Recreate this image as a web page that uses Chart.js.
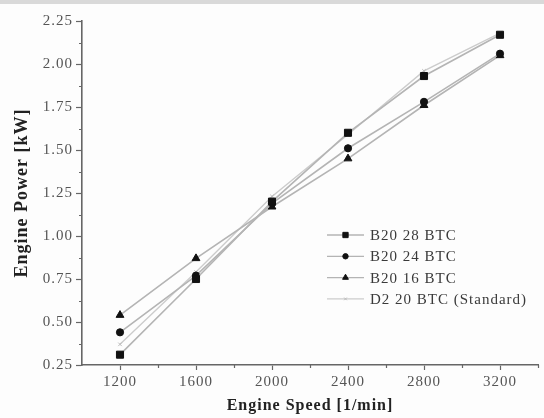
<!DOCTYPE html>
<html>
<head>
<meta charset="utf-8">
<script src="https://cdn.jsdelivr.net/npm/chart.js@4.4.0/dist/chart.umd.min.js"></script>
<style>
  html, body { margin: 0; padding: 0; background: #ffffff; }
  #wrap { position: relative; width: 544px; height: 418px; overflow: hidden; background: #fdfdfd; }
  #band { position: absolute; left: 0; top: 0; width: 544px; height: 4px; background: #d9d9d9; }
  canvas { position: absolute; left: 0; top: 0; }
</style>
</head>
<body>
<div id="wrap">
  <div id="band"></div>
  <canvas id="c" width="544" height="418"></canvas>
</div>
<script>
// ---- data ----
const speeds = [1200, 1600, 2000, 2400, 2800, 3200];
const majorXTicks = [1200, 1600, 2000, 2400, 2800, 3200];
const minorXTicks = [1400, 1800, 2200, 2600, 3000, 3400];
const majorYTicks = [0.25, 0.50, 0.75, 1.00, 1.25, 1.50, 1.75, 2.00, 2.25];
const minorYTicks = [0.375, 0.625, 0.875, 1.125, 1.375, 1.625, 1.875, 2.125];
const b20_28 = [0.31, 0.75, 1.20, 1.60, 1.93, 2.17];
const b20_24 = [0.44, 0.77, 1.19, 1.51, 1.78, 2.06];
const b20_16 = [0.54, 0.87, 1.17, 1.45, 1.76, 2.05];
const d2_20  = [0.37, 0.79, 1.23, 1.59, 1.96, 2.18];
const seriesLabels = ['B20 28 BTC', 'B20 24 BTC', 'B20 16 BTC', 'D2 20 BTC (Standard)'];

const serif = "'Liberation Serif', 'DejaVu Serif', serif";

function pts(vals) { return speeds.map((x, i) => ({ x: x, y: vals[i] })); }

const lineGray = '#b4b4b4';
const datasets = [
  { label: seriesLabels[0], data: pts(b20_28), pointStyle: 'rect', pointRadius: 5, borderColor: lineGray, pointBackgroundColor: '#111', pointBorderColor: '#111', borderWidth: 1.6 },
  { label: seriesLabels[1], data: pts(b20_24), pointStyle: 'circle', pointRadius: 3.6, borderColor: lineGray, pointBackgroundColor: '#111', pointBorderColor: '#111', borderWidth: 1.6 },
  { label: seriesLabels[2], data: pts(b20_16), pointStyle: 'triangle', pointRadius: 4.5, borderColor: lineGray, pointBackgroundColor: '#111', pointBorderColor: '#111', borderWidth: 1.6 },
  { label: seriesLabels[3], data: pts(d2_20), pointStyle: 'crossRot', pointRadius: 2.5, borderColor: '#cccccc', pointBackgroundColor: '#bbbbbb', pointBorderColor: '#bbbbbb', borderWidth: 1.4, pointBorderWidth: 1 }
];
datasets.forEach(d => { d.tension = 0; d.fill = false; d.pointBorderWidth = d.pointBorderWidth || 1; });

const spacingPlugin = {
  id: 'letterSpacing',
  beforeLayout(chart) { chart.ctx.letterSpacing = '1px'; },
  beforeDraw(chart) { chart.ctx.letterSpacing = '1px'; }
};

const minorTicksPlugin = {
  id: 'minorTicks',
  afterDraw(chart) {
    const ctx = chart.ctx;
    const xs = chart.scales.x, ys = chart.scales.y;
    ctx.save();
    ctx.strokeStyle = '#666';
    ctx.lineWidth = 1.2;
    ctx.beginPath();
    minorXTicks.forEach(v => {
      const px = Math.round(xs.getPixelForValue(v)) + 0.5;
      ctx.moveTo(px, ys.bottom); ctx.lineTo(px, ys.bottom + 3);
    });
    minorYTicks.forEach(v => {
      const py = Math.round(ys.getPixelForValue(v)) + 0.5;
      ctx.moveTo(xs.left, py); ctx.lineTo(xs.left - 3, py);
    });
    ctx.stroke();
    ctx.restore();
  }
};

const legendPlugin = {
  id: 'innerLegend',
  afterDraw(chart) {
    const ctx = chart.ctx;
    const x0 = 327, x1 = 364, tx = 370;
    const y0 = 235, dy = 21.3;
    ctx.save();
    chart.data.datasets.forEach((d, i) => {
      const y = y0 + i * dy;
      ctx.strokeStyle = d.borderColor;
      ctx.lineWidth = 1.3;
      ctx.beginPath(); ctx.moveTo(x0, y); ctx.lineTo(x1, y); ctx.stroke();
      ctx.fillStyle = d.pointBackgroundColor;
      ctx.strokeStyle = d.pointBorderColor;
      ctx.lineWidth = 1;
      Chart.helpers.drawPoint(ctx, { pointStyle: d.pointStyle, radius: d.pointRadius * 0.75, rotation: 0, borderWidth: 1 }, (x0 + x1) / 2, y);
      ctx.fillStyle = '#3a3a3a';
      ctx.font = '15px ' + serif;
      ctx.letterSpacing = '1px';
      ctx.textBaseline = 'middle';
      ctx.textAlign = 'left';
      ctx.fillText(d.label, tx, y + 1);
    });
    ctx.restore();
  }
};

new Chart(document.getElementById('c'), {
  type: 'line',
  data: { datasets: datasets },
  plugins: [spacingPlugin, minorTicksPlugin, legendPlugin],
  options: {
    responsive: false,
    animation: false,
    layout: { padding: { left: 0, right: 2, top: 21, bottom: 0 } },
    plugins: { legend: { display: false }, tooltip: { enabled: false } },
    scales: {
      x: {
        type: 'linear', min: 1000, max: 3400,
        afterBuildTicks(scale) { scale.ticks = majorXTicks.map(v => ({ value: v })); },
        afterFit(scale) { scale.height = 53; },
        grid: { drawOnChartArea: false, drawTicks: true, tickLength: 5, tickColor: '#666', tickWidth: 1.2 },
        border: { display: true, color: '#666', width: 1.6 },
        ticks: { color: '#555', font: { family: serif, size: 15 }, padding: 3, maxRotation: 0, autoSkip: false,
                 callback: v => String(v) },
        title: { display: true, text: 'Engine Speed [1/min]', color: '#222', font: { family: serif, size: 16, weight: 'bold' }, padding: { top: 2, bottom: 3 } }
      },
      y: {
        type: 'linear', min: 0.25, max: 2.25,
        afterBuildTicks(scale) { scale.ticks = majorYTicks.map(v => ({ value: v })); },
        afterFit(scale) { scale.width = 82; },
        grid: { drawOnChartArea: false, drawTicks: true, tickLength: 6, tickColor: '#666', tickWidth: 1.2 },
        border: { display: true, color: '#666', width: 1.6 },
        ticks: { color: '#555', font: { family: serif, size: 15 }, padding: 3, autoSkip: false,
                 callback: v => Number(v).toFixed(2) },
        title: { display: true, text: 'Engine Power [kW]', color: '#222', font: { family: serif, size: 18, weight: 'bold' }, padding: { top: 12, bottom: 2 } }
      }
    }
  }
});
</script>
</body>
</html>
